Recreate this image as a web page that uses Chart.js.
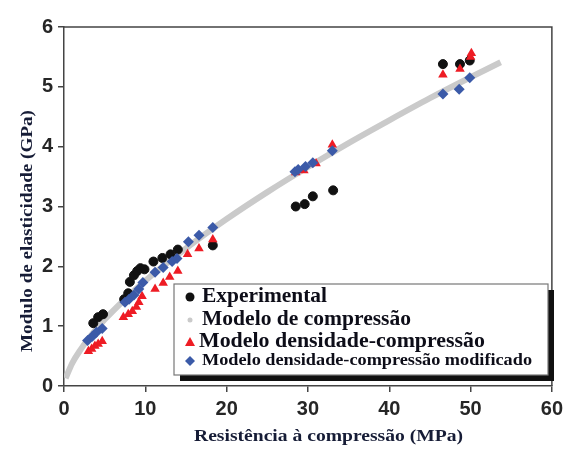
<!DOCTYPE html>
<html>
<head>
<meta charset="utf-8">
<script src="https://cdn.jsdelivr.net/npm/chart.js@4.4.0/dist/chart.umd.min.js"></script>
<style>
  html, body { margin: 0; padding: 0; background: #fff; }
</style>
</head>
<body>
<canvas id="chart" width="568" height="449"></canvas>
<script>
// Experimental measurements (MPa, GPa)
var expX = [3.6, 4.2, 4.8, 7.4, 7.9, 8.1, 8.6, 9.0, 9.4, 9.9, 11.0, 12.1, 13.1, 14.0, 18.3, 28.5, 29.6, 30.6, 33.1, 46.6, 48.7, 49.9];
var expY = [1.05, 1.15, 1.2, 1.45, 1.55, 1.74, 1.85, 1.92, 1.97, 1.95, 2.08, 2.14, 2.2, 2.28, 2.35, 3.0, 3.04, 3.17, 3.27, 5.38, 5.38, 5.44];

// Modelo de compressão (curve)
var compX = [0.2, 1, 2, 3, 5, 7.5, 10, 15, 20, 25, 30, 35, 40, 45, 50, 53.7];
var compY = [0.13, 0.38, 0.6, 0.79, 1.11, 1.45, 1.76, 2.3, 2.79, 3.24, 3.66, 4.06, 4.44, 4.81, 5.16, 5.41];

// Modelo densidade-compressão
var densX = [3.0, 3.4, 3.8, 4.2, 4.7, 7.3, 7.9, 8.4, 8.9, 9.2, 9.6, 11.2, 12.2, 13.0, 14.0, 15.2, 16.6, 18.3, 28.5, 29.5, 31.0, 33.0, 46.6, 48.7, 50.0, 50.1];
var densY = [0.58, 0.62, 0.67, 0.7, 0.75, 1.15, 1.2, 1.25, 1.32, 1.4, 1.5, 1.62, 1.72, 1.82, 1.92, 2.2, 2.3, 2.45, 3.57, 3.6, 3.72, 4.03, 5.2, 5.3, 5.5, 5.56];

// Modelo densidade-compressão modificado
var modX = [2.9, 3.5, 4.0, 4.7, 7.5, 8.0, 8.6, 9.2, 9.7, 11.2, 12.2, 13.3, 13.9, 15.3, 16.6, 18.3, 28.4, 28.8, 29.7, 30.6, 33.0, 46.6, 48.6, 49.9];
var modY = [0.76, 0.83, 0.9, 0.96, 1.4, 1.45, 1.52, 1.62, 1.73, 1.9, 1.98, 2.08, 2.13, 2.41, 2.52, 2.65, 3.58, 3.62, 3.67, 3.73, 3.93, 4.88, 4.96, 5.15];

var legendLabels = ["Experimental", "Modelo de compressão", "Modelo densidade-compressão", "Modelo densidade-compressão modificado"];
var xTitle = "Resistência à compressão (MPa)";
var yTitle = "Modulo de elasticidade (GPa)";

function pairs(xs, ys) {
  return xs.map(function (x, i) { return { x: x, y: ys[i] }; });
}

var RED = "#ee1c24", BLUE = "#3b5aa8", GRAY = "#cacaca", BLACK = "#111111";
var AXIS = "#444444";

// draws text left-aligned at (x, y), stretched horizontally to the given width
function wideText(ctx, text, x, y, width) {
  var w = ctx.measureText(text).width;
  ctx.save();
  ctx.translate(x, y);
  ctx.scale(width / w, 1);
  ctx.fillText(text, 0, 0);
  ctx.restore();
}

// frame, axis titles and the boxed legend
var extras = {
  id: "extras",
  afterDraw: function (chart) {
    var ctx = chart.ctx, a = chart.chartArea;
    ctx.save();
    ctx.strokeStyle = AXIS;
    ctx.lineWidth = 1.5;
    ctx.beginPath();
    ctx.moveTo(a.left, a.top);
    ctx.lineTo(a.right, a.top);
    ctx.lineTo(a.right, a.bottom);
    ctx.stroke();

    // axis titles
    ctx.fillStyle = "#161c36";
    ctx.font = "bold 16px 'Liberation Serif'";
    ctx.textAlign = "left";
    ctx.textBaseline = "middle";
    wideText(ctx, xTitle, 194, 437, 269);
    ctx.save();
    ctx.translate(28, 352);
    ctx.rotate(-Math.PI / 2);
    wideText(ctx, yTitle, 0, 0, 242);
    ctx.restore();

    // legend box with drop shadow
    var bx = 174, by = 284, bw = 374, bh = 91;
    ctx.fillStyle = "#111";
    ctx.fillRect(bx + 6, by + 6, bw, bh);
    ctx.fillStyle = "#fff";
    ctx.fillRect(bx, by, bw, bh);
    ctx.strokeStyle = "#777";
    ctx.lineWidth = 1.2;
    ctx.strokeRect(bx, by, bw, bh);

    var rows = [297, 320, 342, 361];
    var mx = 190;
    // marker: black dot
    ctx.fillStyle = BLACK;
    ctx.beginPath(); ctx.arc(mx, rows[0], 4.5, 0, Math.PI * 2); ctx.fill();
    // marker: gray dot
    ctx.fillStyle = GRAY;
    ctx.beginPath(); ctx.arc(mx, rows[1], 2.5, 0, Math.PI * 2); ctx.fill();
    // marker: red triangle
    ctx.fillStyle = RED;
    ctx.beginPath();
    ctx.moveTo(mx, rows[2] - 5); ctx.lineTo(mx + 5, rows[2] + 4); ctx.lineTo(mx - 5, rows[2] + 4);
    ctx.closePath(); ctx.fill();
    // marker: blue diamond
    ctx.fillStyle = BLUE;
    ctx.beginPath();
    ctx.moveTo(mx, rows[3] - 5); ctx.lineTo(mx + 5, rows[3]); ctx.lineTo(mx, rows[3] + 5); ctx.lineTo(mx - 5, rows[3]);
    ctx.closePath(); ctx.fill();

    ctx.fillStyle = "#0d0d18";
    ctx.font = "bold 21px 'Liberation Serif'";
    wideText(ctx, legendLabels[0], 202, rows[0], 125);
    wideText(ctx, legendLabels[1], 202, rows[1], 209);
    wideText(ctx, legendLabels[2], 199, rows[2], 286);
    ctx.font = "bold 16px 'Liberation Serif'";
    wideText(ctx, legendLabels[3], 202, rows[3], 330);
    ctx.restore();
  }
};

var tickFont = { family: "'Liberation Sans', Arial, sans-serif", size: 20, weight: "bold" };

new Chart(document.getElementById("chart").getContext("2d"), {
  type: "scatter",
  data: {
    datasets: [
      {
        label: legendLabels[1],
        type: "line",
        data: pairs(compX, compY),
        borderColor: GRAY,
        borderWidth: 6,
        pointRadius: 0,
        fill: false,
        cubicInterpolationMode: "monotone",
        order: 4
      },
      {
        label: legendLabels[0],
        data: pairs(expX, expY),
        backgroundColor: BLACK,
        borderColor: BLACK,
        pointStyle: "circle",
        pointRadius: 4.5,
        order: 3
      },
      {
        label: legendLabels[2],
        data: pairs(densX, densY),
        backgroundColor: RED,
        borderColor: RED,
        pointStyle: "triangle",
        pointRadius: 5.5,
        borderWidth: 0,
        order: 2
      },
      {
        label: legendLabels[3],
        data: pairs(modX, modY),
        backgroundColor: BLUE,
        borderColor: BLUE,
        pointStyle: "rectRot",
        pointRadius: 5.5,
        borderWidth: 0,
        order: 1
      }
    ]
  },
  options: {
    responsive: false,
    animation: false,
    layout: { padding: { top: 27, right: 15, left: 0, bottom: 0 } },
    plugins: {
      legend: { display: false },
      tooltip: { enabled: false }
    },
    scales: {
      x: {
        type: "linear",
        min: 0,
        max: 60,
        ticks: { stepSize: 10, font: tickFont, color: "#262626", padding: 5, maxRotation: 0 },
        grid: { drawOnChartArea: false, drawTicks: true, tickLength: 6, color: AXIS, lineWidth: 1.5 },
        border: { display: true, color: AXIS, width: 1.5 },
        afterFit: function (scale) { scale.height = 63; }
      },
      y: {
        min: 0,
        max: 6,
        ticks: { stepSize: 1, font: tickFont, color: "#262626", padding: 5 },
        grid: { drawOnChartArea: false, drawTicks: true, tickLength: 6, color: AXIS, lineWidth: 1.5 },
        border: { display: true, color: AXIS, width: 1.5 },
        afterFit: function (scale) { scale.width = 64; }
      }
    }
  },
  plugins: [extras]
});
</script>
</body>
</html>
